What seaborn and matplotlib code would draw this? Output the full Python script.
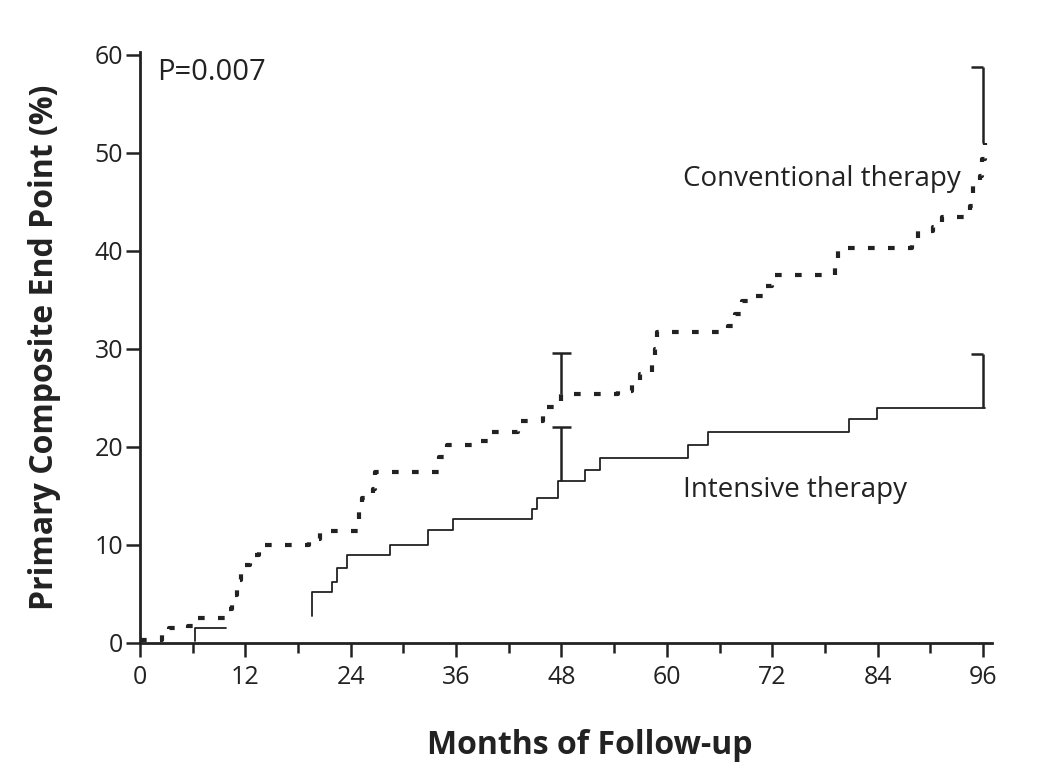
import numpy as np
import pandas as pd
import seaborn as sns
import matplotlib.pyplot as plt
from matplotlib.ticker import MultipleLocator

# Kaplan-Meier style cumulative incidence (steps-post)
conv_months = [0.0, 2.5, 3.3, 5.5, 6.5, 9.9, 10.5, 11.0, 11.5, 12.5, 13.5, 19.2, 20.5,
               24.9, 25.3, 26.5, 26.8, 34.0, 35.0, 38.7, 40.0, 43.0, 45.9, 48.0, 54.4,
               56.0, 57.0, 58.3, 58.7, 58.9, 67.0, 67.8, 68.6, 70.0, 71.2, 72.0, 79.2,
               79.5, 87.9, 88.6, 90.3, 91.3, 94.5, 94.9, 95.7, 95.9, 96.2]
conv_pct = [0.3, 1.0, 1.5, 1.7, 2.5, 3.4, 4.9, 6.4, 7.9, 8.9, 10.0, 10.6, 11.4,
            13.4, 14.8, 15.7, 17.4, 18.9, 20.2, 20.6, 21.5, 22.6, 24.1, 25.4, 25.7,
            26.5, 27.4, 28.4, 30.0, 31.7, 32.3, 33.6, 34.9, 35.4, 36.4, 37.5, 38.9,
            40.3, 40.7, 42.0, 42.4, 43.5, 44.6, 46.7, 47.6, 49.4, 51.0]

# intensive curve is drawn in two visible pieces
int_months_a = [6.3, 6.3, 9.8]
int_pct_a = [0.2, 1.5, 1.5]
int_months_b = [19.6, 19.6, 21.9, 22.4, 23.6, 28.5, 32.8, 35.6, 44.6, 45.2, 47.6,
                50.7, 52.4, 62.4, 64.7, 80.7, 83.9, 96.2]
int_pct_b = [2.7, 5.2, 6.2, 7.6, 8.9, 10.0, 11.5, 12.6, 13.6, 14.8, 16.5,
             17.6, 18.8, 20.2, 21.5, 22.8, 24.0, 24.0]

# 95% CI bars (upper half only)
ci_months = [48, 96]
conv_ci_low = [25.4, 51.0]
conv_ci_high = [29.6, 58.8]
int_ci_low = [16.5, 24.0]
int_ci_high = [22.0, 29.5]

x_ticks = [0, 12, 24, 36, 48, 60, 72, 84, 96]
y_ticks = [0, 10, 20, 30, 40, 50, 60]

df = pd.concat([
    pd.DataFrame({"month": conv_months, "pct": conv_pct, "arm": "Conventional", "seg": "c"}),
    pd.DataFrame({"month": int_months_a, "pct": int_pct_a, "arm": "Intensive", "seg": "a"}),
    pd.DataFrame({"month": int_months_b, "pct": int_pct_b, "arm": "Intensive", "seg": "b"}),
], ignore_index=True)

sns.set_theme(style="ticks")
plt.rcParams['font.family'] = ['Open Sans', 'DejaVu Sans']

fig, ax = plt.subplots(figsize=(10.45, 7.65), dpi=100)
fig.subplots_adjust(left=0.134, right=0.949, bottom=0.16, top=0.932)

ink = "#222222"
sub = df[df["arm"] == "Conventional"]
sns.lineplot(data=sub, x="month", y="pct", units="seg", estimator=None, sort=False,
             ax=ax, color=ink, drawstyle="steps-post", linewidth=3.0,
             dashes=False, legend=False)
ax.lines[-1].set_dashes([1.6, 3.2])
ax.lines[-1].set_dash_capstyle("butt")

sub = df[df["arm"] == "Intensive"]
sns.lineplot(data=sub, x="month", y="pct", units="seg", estimator=None, sort=False,
             ax=ax, color=ink, drawstyle="steps-post", linewidth=1.3, legend=False)

# confidence bars
cap_left = np.array([1.1, 1.4])
cap_right = np.array([1.1, 0.0])
cm = np.array(ci_months, dtype=float)
for lo, hi in [(conv_ci_low, conv_ci_high), (int_ci_low, int_ci_high)]:
    ax.vlines(cm, lo, hi, color=ink, linewidth=1.8)
    ax.hlines(hi, cm - cap_left, cm + cap_right, color=ink, linewidth=1.8)

ax.set_xlim(0, 97)
ax.set_ylim(0, 60.3)
ax.set_xticks(x_ticks)
ax.xaxis.set_minor_locator(MultipleLocator(6))
ax.set_yticks(y_ticks)
ax.tick_params(axis="both", which="major", length=10, width=1.8, color=ink,
               labelsize=18, labelcolor=ink, pad=2)
ax.tick_params(axis="x", which="major", pad=6)
ax.tick_params(axis="x", which="minor", length=7, width=1.8, color=ink)
for side in ["left", "bottom"]:
    ax.spines[side].set_linewidth(2)
    ax.spines[side].set_color(ink)
sns.despine(ax=ax)

ax.set_xlabel("Months of Follow-up", fontsize=23, fontweight="bold", color=ink)
ax.set_ylabel("Primary Composite End Point (%)", fontsize=23, fontweight="bold", color=ink)
ax.xaxis.label.set_va("center")
ax.yaxis.label.set_va("center")
ax.xaxis.set_label_coords(0.528, -0.175)
ax.yaxis.set_label_coords(-0.112, 0.50)

ax.text(2.0, 58.2, "P=0.007", fontsize=21, color=ink, va="center", ha="left")
ax.text(61.8, 47.3, "Conventional therapy", fontsize=20, color=ink, va="center", ha="left")
ax.text(61.8, 15.6, "Intensive therapy", fontsize=20, color=ink, va="center", ha="left")

fig.savefig("out.png", dpi=100, facecolor="white")
